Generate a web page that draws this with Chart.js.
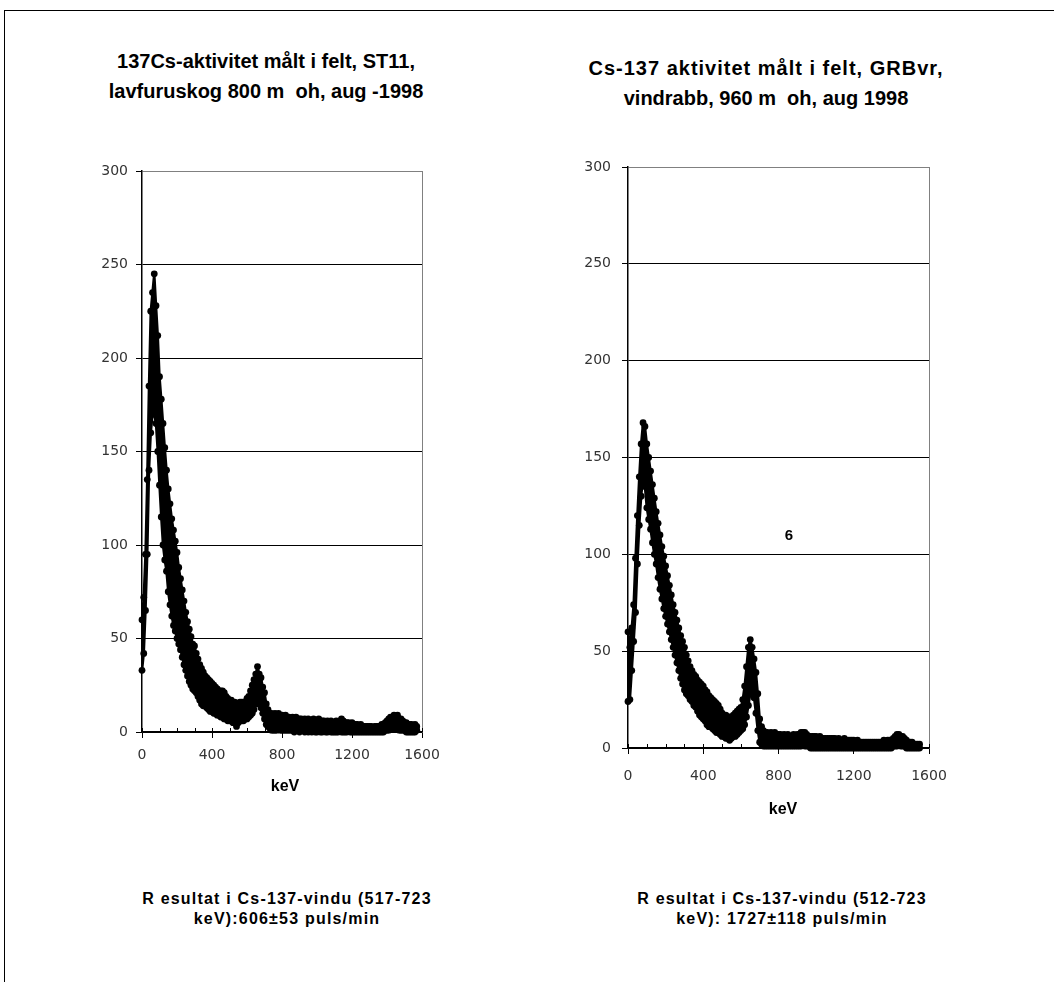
<!DOCTYPE html>
<html>
<head>
<meta charset="utf-8">
<title>Cs-137 spektra</title>
<script src="https://cdn.jsdelivr.net/npm/chart.js"></script>
<style>
  body { margin: 0; background: #fff; font-family: "Liberation Sans", Arial, sans-serif; color: #000; }
  #page { position: relative; width: 1054px; height: 982px; overflow: hidden; }
  #frame { position: absolute; left: 4px; top: 10px; width: 1060px; height: 1000px; border-top: 1px solid #000; border-left: 1px solid #000; }
  .title { position: absolute; width: 440px; text-align: center; font-weight: bold; font-size: 20px; line-height: 30px; white-space: pre; }
  .axis { position: absolute; width: 100px; text-align: center; font-weight: bold; font-size: 16px; line-height: 16px; }
  .result { position: absolute; width: 400px; text-align: center; font-weight: bold; font-size: 16px; line-height: 20px; letter-spacing: 1.2px; white-space: pre; }
  canvas { position: absolute; }
</style>
</head>
<body>
<div id="page">
  <div id="frame"></div>

  <div class="title" style="left:46px; top:46px;">137Cs-aktivitet målt i felt, ST11,
lavfuruskog 800 m  oh, aug -1998</div>
  <div class="title" style="left:546px; top:53px;"><span style="letter-spacing:1px;">Cs-137 aktivitet målt i felt, GRBvr,</span>
vindrabb, 960 m  oh, aug 1998</div>

  <canvas id="chartST11" width="380" height="700" style="left:80px; top:150px;"></canvas>
  <canvas id="chartGRB" width="400" height="720" style="left:560px; top:140px;"></canvas>

  <div class="axis" style="left:235px; top:778px;">keV</div>
  <div class="axis" style="left:733px; top:801px;">keV</div>
  <div class="axis" style="left:739px; top:527px; font-size:15px; line-height:15px;">6</div>

  <div class="result" style="left:87px; top:889px;">R esultat i Cs-137-vindu (517-723
keV):606±53 puls/min</div>
  <div class="result" style="left:582px; top:889px;">R esultat i Cs-137-vindu (512-723
keV): 1727±118 puls/min</div>
</div>

<script>
// energy of each plotted channel (keV)
const energies = [
  0, 10, 20, 30, 40, 50, 60, 70, 80, 90,
  100, 110, 120, 130, 140, 150, 160, 170, 180, 190,
  200, 210, 220, 230, 240, 250, 260, 270, 280, 290,
  300, 310, 320, 330, 340, 350, 360, 370, 380, 390,
  400, 410, 420, 430, 440, 450, 460, 470, 480, 490,
  500, 510, 520, 530, 540, 550, 560, 570, 580, 590,
  600, 610, 620, 630, 640, 650, 660, 670, 680, 690,
  700, 710, 720, 730, 740, 750, 760, 770, 780, 790,
  800, 810, 820, 830, 840, 850, 860, 870, 880, 890,
  900, 910, 920, 930, 940, 950, 960, 970, 980, 990,
  1000, 1010, 1020, 1030, 1040, 1050, 1060, 1070, 1080, 1090,
  1100, 1110, 1120, 1130, 1140, 1150, 1160, 1170, 1180, 1190,
  1200, 1210, 1220, 1230, 1240, 1250, 1260, 1270, 1280, 1290,
  1300, 1310, 1320, 1330, 1340, 1350, 1360, 1370, 1380, 1390,
  1400, 1410, 1420, 1430, 1440, 1450, 1460, 1470, 1480, 1490,
  1500, 1510, 1520, 1530, 1540, 1550, 1560, 1570
];

// ST11, lavfuruskog: upper and lower edge of the scattered counts
const hiST11 = [
  60, 72, 95, 135, 185, 225, 235, 245, 228, 212,
  190, 178, 165, 152, 140, 130, 122, 114, 108, 102,
  96, 88, 82, 76, 70, 64, 59, 55, 51, 47,
  46, 42, 39, 36, 34, 32, 30, 29, 28, 27,
  26, 25, 24, 23, 22, 22, 22, 21, 19, 18,
  17, 17, 16, 16, 15, 15, 16, 16, 16, 16,
  18, 19, 22, 25, 28, 31, 35, 31, 29, 24,
  21, 15, 12, 10, 10, 9, 10, 9, 10, 9,
  9, 8, 9, 8, 8, 7, 8, 7, 8, 7,
  7, 7, 6, 7, 6, 7, 6, 6, 7, 6,
  6, 7, 6, 6, 6, 5, 6, 5, 6, 5,
  5, 6, 5, 6, 7, 6, 5, 5, 5, 4,
  5, 4, 4, 4, 3, 4, 3, 3, 3, 3,
  3, 3, 2, 3, 3, 3, 3, 4, 4, 5,
  6, 7, 8, 8, 9, 8, 9, 7, 7, 6,
  5, 5, 4, 4, 4, 3, 4, 3
];
const loST11 = [
  33, 42, 65, 95, 140, 160, 170, 170, 165, 150,
  132, 115, 100, 92, 86, 75, 68, 62, 57, 54,
  50, 47, 44, 40, 36, 33, 30, 27, 25, 23,
  22, 21, 19, 17, 15, 14, 14, 13, 12, 11,
  11, 10, 10, 9, 9, 8, 8, 7, 7, 6,
  6, 6, 5, 5, 3, 5, 6, 6, 6, 7,
  7, 8, 9, 10, 12, 15, 17, 15, 13, 10,
  7, 4, 3, 2, 1, 1, 1, 1, 2, 1,
  1, 1, 1, 1, 1, 1, 1, 0, 1, 1,
  0, 1, 1, 0, 1, 0, 1, 0, 1, 0,
  0, 1, 0, 0, 1, 0, 0, 1, 0, 0,
  0, 0, 0, 1, 0, 0, 0, 0, 1, 0,
  0, 0, 0, 0, 0, 0, 0, 0, 0, 0,
  0, 0, 0, 0, 0, 0, 0, 0, 0, 1,
  1, 1, 2, 2, 2, 2, 2, 1, 1, 1,
  1, 0, 0, 0, 0, 0, 0, 1
];

// GRBvr, vindrabb: upper and lower edge of the scattered counts
const hiGRB = [
  60, 52, 62, 74, 98, 120, 140, 157, 168, 166,
  157, 150, 143, 136, 129, 122, 116, 110, 104, 99,
  94, 89, 84, 79, 74, 70, 66, 62, 58, 55,
  52, 48, 45, 42, 40, 38, 37, 35, 34, 33,
  32, 30, 29, 27, 26, 25, 24, 23, 22, 20,
  18, 17, 17, 16, 16, 16, 17, 18, 19, 20,
  21, 25, 32, 42, 52, 56, 52, 46, 39, 28,
  15, 11, 9, 8, 8, 7, 8, 7, 8, 7,
  7, 7, 6, 7, 6, 7, 6, 6, 7, 6,
  7, 7, 8, 8, 8, 7, 6, 6, 6, 6,
  6, 5, 6, 5, 5, 5, 5, 5, 5, 5,
  5, 4, 5, 4, 4, 5, 4, 4, 4, 4,
  4, 3, 4, 3, 3, 3, 3, 3, 3, 3,
  3, 3, 3, 3, 3, 3, 4, 3, 4, 4,
  4, 5, 6, 7, 7, 6, 6, 5, 4, 3,
  3, 3, 2, 2, 2, 2
];
const loGRB = [
  24, 25, 40, 55, 70, 95, 115, 130, 140, 135,
  124, 118, 113, 106, 100, 95, 88, 82, 77, 72,
  68, 64, 60, 56, 52, 48, 44, 40, 36, 33,
  30, 28, 27, 25, 24, 22, 21, 19, 17, 16,
  15, 14, 12, 11, 11, 10, 9, 8, 8, 7,
  6, 6, 5, 5, 4, 5, 6, 6, 7, 8,
  9, 10, 12, 16, 22, 28, 28, 26, 18, 9,
  3, 2, 1, 1, 1, 1, 1, 1, 1, 1,
  1, 1, 1, 1, 1, 1, 1, 1, 1, 1,
  1, 1, 1, 2, 1, 1, 1, 0, 0, 0,
  0, 0, 0, 0, 0, 0, 0, 0, 0, 0,
  0, 0, 0, 0, 0, 0, 0, 0, 0, 0,
  0, 0, 0, 0, 0, 0, 0, 0, 0, 0,
  0, 0, 0, 0, 0, 0, 0, 0, 0, 0,
  0, 1, 1, 1, 2, 1, 1, 1, 0, 0,
  0, 0, 0, 0, 0, 0
];

const xTicks = [0, 400, 800, 1200, 1600];

const tickFont = { family: 'DejaVu Sans', size: 14 };

// small inward tick marks every 100 keV on the energy axis
const innerTicks = {
    id: 'innerTicks',
    beforeDatasetsDraw(chart) {
        const xs = chart.scales.x;
        const ctx = chart.ctx;
        const y0 = chart.chartArea.bottom;
        ctx.save();
        ctx.strokeStyle = '#000';
        ctx.lineWidth = 1;
        xs.ticks.forEach(t => {
            const px = Math.round(xs.getPixelForValue(t.value)) + 0.5;
            ctx.beginPath();
            ctx.moveTo(px, y0);
            ctx.lineTo(px, y0 - 4);
            ctx.stroke();
        });
        ctx.restore();
    }
};

function toPoints(values) {
    return values.map((v, i) => ({ x: energies[i], y: v }));
}

function makeChart(id, hi, lo, opts) {
    const common = {
        showLine: true,
        borderColor: '#000',
        borderWidth: 2.5,
        borderJoinStyle: 'round',
        pointRadius: 3.4,
        pointBackgroundColor: '#000',
        pointBorderWidth: 0,
        pointHoverRadius: 3.4,
        clip: false
    };
    return new Chart(document.getElementById(id), {
        type: 'scatter',
        data: {
            datasets: [
                Object.assign({ data: toPoints(hi), fill: '+1', backgroundColor: '#000' }, common),
                Object.assign({ data: toPoints(lo), fill: false }, common)
            ]
        },
        options: {
            responsive: false,
            animation: false,
            events: [],
            layout: { padding: opts.padding },
            plugins: { legend: { display: false }, tooltip: { enabled: false } },
            scales: {
                x: {
                    type: 'linear', min: 0, max: 1600,
                    ticks: {
                        stepSize: 100, autoSkip: false, maxRotation: 0,
                        padding: opts.xPad, font: tickFont, color: '#333',
                        callback: v => xTicks.includes(v) ? v : ''
                    },
                    grid: {
                        color: c => (c.tick && c.tick.value === 1600) ? '#808080' : 'rgba(0,0,0,0)',
                        tickColor: c => (c.tick && xTicks.includes(c.tick.value)) ? '#000' : 'rgba(0,0,0,0)',
                        tickLength: 6
                    },
                    border: { color: '#000', width: 1.5 },
                    afterFit: s => { s.height = 40; s.paddingLeft = 0; s.paddingRight = 0; }
                },
                y: {
                    min: 0, max: 300,
                    ticks: { stepSize: 50, padding: opts.yPad, font: tickFont, color: '#333' },
                    grid: {
                        color: c => (c.tick && c.tick.value === 300) ? '#808080' : '#000',
                        tickColor: '#000', tickLength: 6
                    },
                    border: { color: '#000', width: 1.5 },
                    afterFit: s => { s.width = opts.yWidth; s.paddingTop = 0; s.paddingBottom = 0; }
                }
            }
        },
        plugins: [innerTicks]
    });
}

makeChart('chartST11', hiST11, loST11, { padding: { left: 0, top: 21, right: 38, bottom: 78 }, yWidth: 62, xPad: 9, yPad: 8 });
makeChart('chartGRB', hiGRB, loGRB, { padding: { left: 0, top: 27, right: 31, bottom: 72 }, yWidth: 68, xPad: 14, yPad: 11 });
</script>
</body>
</html>
